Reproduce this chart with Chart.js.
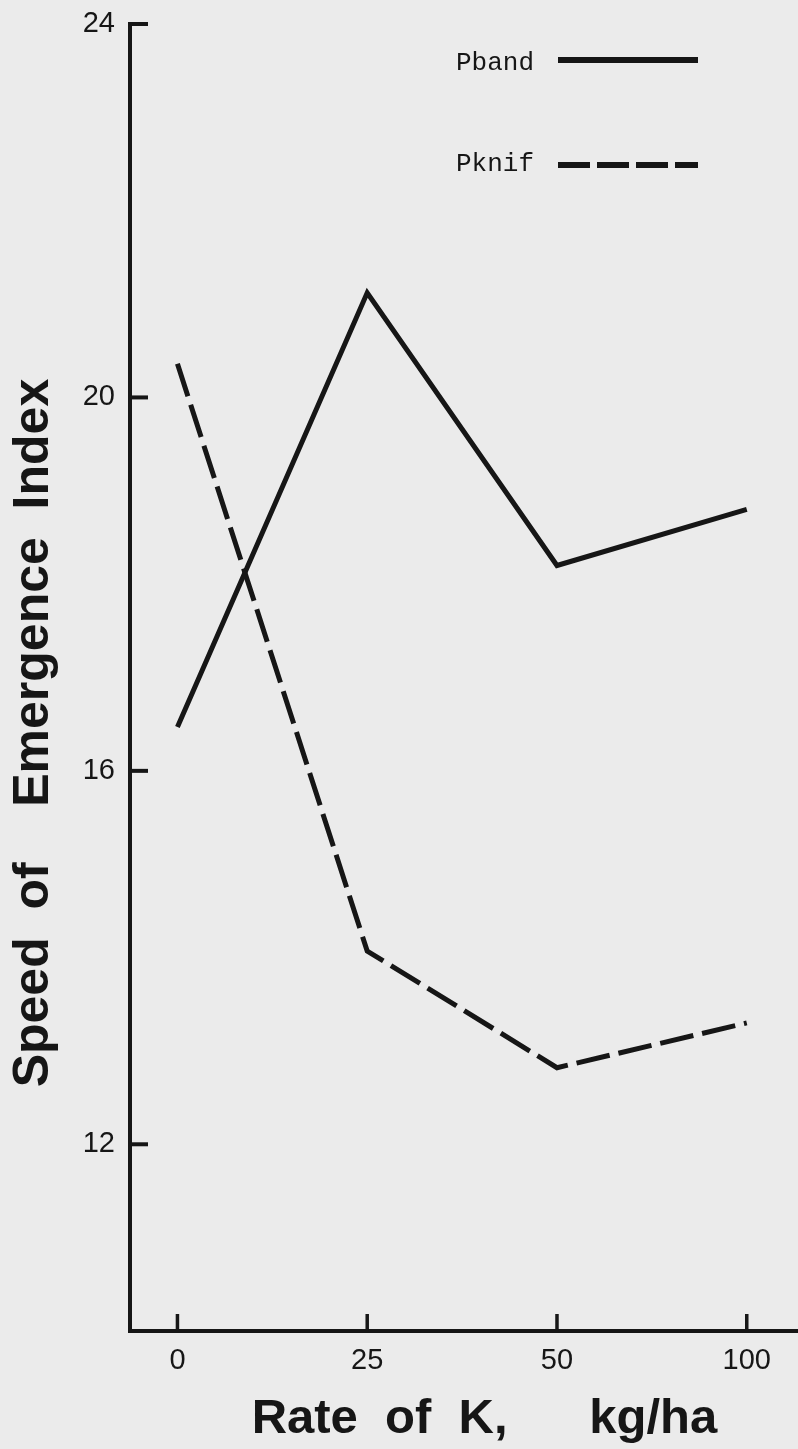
<!DOCTYPE html>
<html>
<head>
<meta charset="utf-8">
<script src="https://cdn.jsdelivr.net/npm/chart.js@4.4.1/dist/chart.umd.min.js"></script>
<style>
  html, body { margin: 0; padding: 0; background: #ebebeb; }
  #wrap { width: 798px; height: 1449px; position: relative; }
  canvas { display: block; }
</style>
</head>
<body>
<div id="wrap"><canvas id="c" width="798" height="1449"></canvas></div>
<script>
// ---- data ----
const categories = ['0', '25', '50', '100'];
const pbandValues = [16.47, 21.12, 18.2, 18.8];
const pknifValues = [20.36, 14.07, 12.82, 13.3];
const yTickValues = [12, 16, 20, 24];
const seriesNames = ['Pband', 'Pknif'];

const INK = '#161616';

const toPoints = arr => arr.map((v, i) => ({ x: i, y: v }));

const bgPlugin = {
  id: 'bg',
  beforeDraw(chart) {
    const ctx = chart.ctx;
    ctx.save();
    ctx.fillStyle = '#ebebeb';
    ctx.fillRect(0, 0, chart.width, chart.height);
    ctx.restore();
  }
};

const innerTicks = {
  id: 'innerTicks',
  afterDraw(chart) {
    const ctx = chart.ctx;
    const area = chart.chartArea;
    const xs = chart.scales.x, ys = chart.scales.y;
    ctx.save();
    ctx.strokeStyle = INK;
    ctx.lineCap = 'butt';
    ctx.lineWidth = 4;
    ys.ticks.forEach(t => {
      const py = ys.getPixelForValue(t.value);
      ctx.beginPath();
      ctx.moveTo(area.left, py);
      ctx.lineTo(area.left + 18, py);
      ctx.stroke();
    });
    ctx.lineWidth = 3.5;
    xs.ticks.forEach(t => {
      const px = xs.getPixelForValue(t.value);
      ctx.beginPath();
      ctx.moveTo(px, area.bottom);
      ctx.lineTo(px, area.bottom - 17);
      ctx.stroke();
    });
    ctx.restore();
  }
};

const customLegend = {
  id: 'customLegend',
  afterDraw(chart) {
    const ctx = chart.ctx;
    const rows = [{ ty: 70, ly: 60 }, { ty: 171, ly: 165 }];
    ctx.save();
    chart.data.datasets.forEach((ds, i) => {
      const r = rows[i];
      ctx.fillStyle = INK;
      ctx.font = '26px "Liberation Mono", "DejaVu Sans Mono", monospace';
      ctx.textBaseline = 'alphabetic';
      ctx.textAlign = 'left';
      ctx.fillText(ds.label, 456, r.ty);
      ctx.strokeStyle = ds.borderColor;
      ctx.lineWidth = 6;
      ctx.setLineDash(ds.borderDash ? [32, 7] : []);
      ctx.beginPath();
      ctx.moveTo(558, r.ly);
      ctx.lineTo(698, r.ly);
      ctx.stroke();
    });
    ctx.restore();
  }
};

new Chart(document.getElementById('c'), {
  type: 'line',
  data: {
    datasets: [
      {
        label: seriesNames[0],
        data: toPoints(pbandValues),
        borderColor: INK,
        borderWidth: 5,
        pointRadius: 0,
        tension: 0,
        fill: false,
        borderJoinStyle: 'miter'
      },
      {
        label: seriesNames[1],
        data: toPoints(pknifValues),
        borderColor: INK,
        borderWidth: 5,
        borderDash: [34, 9],
        pointRadius: 0,
        tension: 0,
        fill: false,
        borderJoinStyle: 'miter'
      }
    ]
  },
  options: {
    responsive: false,
    animation: false,
    devicePixelRatio: 1,
    layout: { padding: { top: 24, right: 0, left: 0, bottom: 0 } },
    plugins: {
      legend: { display: false },
      tooltip: { enabled: false }
    },
    scales: {
      x: {
        type: 'linear',
        min: -0.25,
        max: 3.27,
        afterBuildTicks(scale) {
          scale.ticks = categories.map((c, i) => ({ value: i }));
        },
        afterFit(scale) {
          scale.height = 118;
          scale.paddingLeft = 0; scale.paddingRight = 0;
        },
        grid: { display: false, drawTicks: false },
        border: { display: true, color: INK, width: 4 },
        ticks: {
          color: INK,
          padding: 13,
          font: { family: '"Liberation Sans", Arial, sans-serif', size: 29 },
          callback: (v) => categories[v] !== undefined ? categories[v] : ''
        },
        title: {
          display: true,
          text: '   Rate  of  K,      kg/ha',
          color: INK,
          font: { family: '"Liberation Sans", Arial, sans-serif', size: 49, weight: 'bold' },
          padding: { top: 0, bottom: 0 }
        }
      },
      y: {
        type: 'linear',
        min: 10,
        max: 24,
        afterBuildTicks(scale) {
          scale.ticks = yTickValues.map(v => ({ value: v }));
        },
        afterFit(scale) {
          scale.width = 130;
          scale.paddingTop = 0; scale.paddingBottom = 0;
        },
        grid: { display: false, drawTicks: false },
        border: { display: true, color: INK, width: 4 },
        ticks: {
          color: INK,
          padding: 15,
          font: { family: '"Liberation Sans", Arial, sans-serif', size: 29 }
        },
        title: {
          display: true,
          text: 'Speed  of    Emergence  Index        ',
          color: INK,
          font: { family: '"Liberation Sans", Arial, sans-serif', size: 50, weight: 'bold' },
          padding: { top: 4, bottom: 0 }
        }
      }
    }
  },
  plugins: [bgPlugin, innerTicks, customLegend]
});
</script>
</body>
</html>
